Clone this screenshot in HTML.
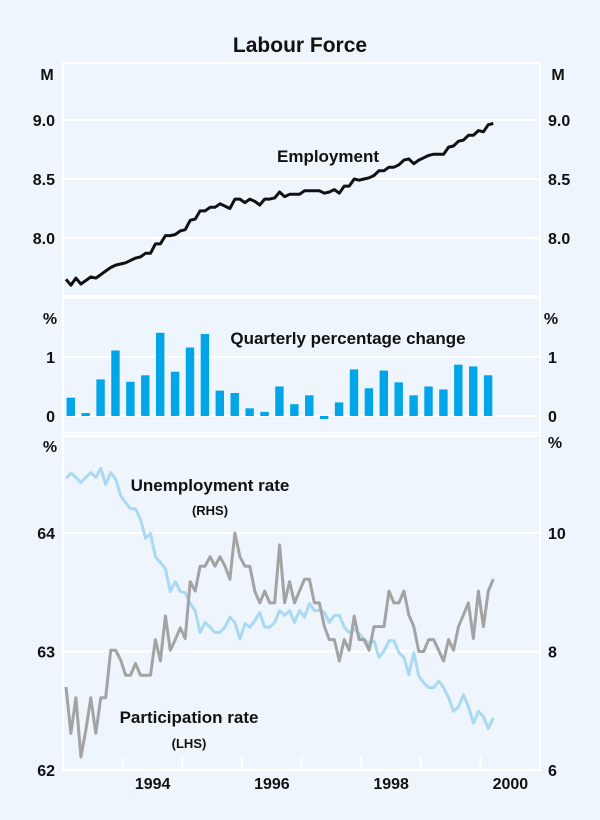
<!DOCTYPE html>
<html><head><meta charset="utf-8"><style>
body{margin:0;background:#eef5fc;}
svg{display:block;font-family:"Liberation Sans",Arial,sans-serif;}
</style></head><body>
<svg id="c" width="600" height="820" viewBox="0 0 600 820">
<rect width="600" height="820" fill="#eef5fc"/>
<text x="300" y="52" text-anchor="middle" font-size="21" font-weight="bold" fill="#111">Labour Force</text>
<g id="g"></g>
</svg>
<script>
const empValues=[7.65,7.60,7.66,7.61,7.64,7.67,7.66,7.69,7.72,7.75,7.77,7.78,7.79,7.81,7.83,7.84,7.87,7.87,7.95,7.95,8.02,8.02,8.03,8.06,8.07,8.15,8.16,8.23,8.23,8.26,8.26,8.29,8.27,8.25,8.33,8.33,8.30,8.33,8.31,8.28,8.33,8.33,8.34,8.39,8.35,8.37,8.37,8.37,8.40,8.40,8.40,8.40,8.38,8.39,8.41,8.38,8.44,8.44,8.50,8.49,8.50,8.51,8.53,8.57,8.57,8.60,8.60,8.62,8.66,8.67,8.63,8.66,8.68,8.70,8.71,8.71,8.71,8.77,8.78,8.82,8.83,8.87,8.87,8.91,8.90,8.96,8.97];
const qtrChange=[0.31,0.05,0.62,1.11,0.58,0.69,1.41,0.75,1.16,1.39,0.43,0.39,0.13,0.07,0.50,0.20,0.35,-0.05,0.23,0.79,0.47,0.77,0.57,0.35,0.50,0.45,0.87,0.84,0.69];
const partRate=[62.70,62.31,62.61,62.11,62.34,62.61,62.31,62.61,62.61,63.01,63.01,62.93,62.80,62.80,62.90,62.80,62.80,62.80,63.10,62.92,63.30,63.01,63.10,63.20,63.11,63.59,63.51,63.72,63.72,63.80,63.72,63.80,63.72,63.61,64.00,63.80,63.72,63.72,63.51,63.41,63.51,63.41,63.41,63.90,63.41,63.59,63.41,63.51,63.61,63.61,63.41,63.41,63.21,63.10,63.10,62.92,63.10,63.01,63.30,63.10,63.10,63.01,63.21,63.21,63.21,63.51,63.41,63.41,63.51,63.31,63.21,63.00,63.00,63.10,63.10,63.01,62.92,63.10,63.01,63.21,63.31,63.41,63.11,63.51,63.21,63.51,63.61];
const unempRate=[10.92,11.01,10.94,10.85,10.94,11.02,10.94,11.09,10.82,11.02,10.91,10.63,10.51,10.41,10.41,10.23,9.91,9.99,9.60,9.50,9.40,9.01,9.18,9.01,8.99,8.81,8.69,8.32,8.49,8.41,8.32,8.32,8.41,8.58,8.49,8.21,8.47,8.41,8.52,8.66,8.41,8.41,8.49,8.69,8.61,8.69,8.49,8.69,8.58,8.81,8.69,8.69,8.66,8.49,8.61,8.61,8.41,8.32,8.38,8.30,8.21,8.13,8.18,7.90,8.01,8.18,8.18,7.98,7.90,7.61,7.98,7.59,7.47,7.39,7.39,7.50,7.39,7.22,6.99,7.07,7.27,7.07,6.79,6.99,6.90,6.70,6.88];
const yearLabels=[1994,1996,1998,2000];
const empTicks=[8.0,8.5,9.0];
const qtrTicks=[0,1];
const lhsTicks=[62,63,64];
const rhsTicks=[6,8,10];
const startMonth=1993.05, startQtr=1993.13;

const L=63,R=540;
const X=t=>L+(t-1993)*(R-L)/8;
const yEmp=v=>120+(9.0-v)*118;
const yQ=v=>416-v*59;
const yL=v=>770-(v-62)*118.5;
const yR=v=>770-(v-6)*59.25;
const g=document.getElementById('g');
const NS='http://www.w3.org/2000/svg';
function mk(tag,attrs,parent){const e=document.createElementNS(NS,tag);for(const k in attrs)e.setAttribute(k,attrs[k]);(parent||g).appendChild(e);return e;}
function txt(x,y,s,anchor,size,name){const t=mk('text',{x:x,y:y,'text-anchor':anchor,'font-size':size,'font-weight':'bold',fill:'#111'});t.textContent=s;

return t;}

// panels
[[63,296],[298,433],[436,770]].forEach((p,i)=>{const r=mk('rect',{x:L,y:p[0],width:R-L,height:p[1]-p[0],fill:'none',stroke:'#fff','stroke-width':2});

});

// gridlines and tick labels
empTicks.forEach(v=>{const l=mk('line',{x1:L,x2:R,y1:yEmp(v),y2:yEmp(v),stroke:'#fff','stroke-width':2});


txt(55,yEmp(v)+6,v.toFixed(1),'end',16,'y-tick-left');txt(548,yEmp(v)+6,v.toFixed(1),'start',16,'y-tick-right');});
qtrTicks.forEach(v=>{const l=mk('line',{x1:L,x2:R,y1:yQ(v),y2:yQ(v),stroke:'#fff','stroke-width':2});


txt(55,yQ(v)+6,String(v),'end',16,'y-tick-left');txt(548,yQ(v)+6,String(v),'start',16,'y-tick-right');});
lhsTicks.forEach((v,i)=>{const l=mk('line',{x1:L,x2:R,y1:yL(v),y2:yL(v),stroke:'#fff','stroke-width':2});


txt(55,yL(v)+6,String(v),'end',16,'y-tick-left');txt(548,yR(rhsTicks[i])+6,String(rhsTicks[i]),'start',16,'y-tick-right');});
txt(47,80,'M','middle',16,'unit-left-m');txt(558,80,'M','middle',16,'unit-right-m');
txt(50,324,'%','middle',16,'unit-left-pct');txt(551,324,'%','middle',16,'unit-right-pct');
txt(50,452,'%','middle',16,'unit-left-pct');txt(555,448,'%','middle',16,'unit-right-pct');

// year ticks
for(let y=1994;y<=2000;y++){const l=mk('line',{x1:X(y),x2:X(y),y1:770,y2:757,stroke:'#fff','stroke-width':2});

}
yearLabels.forEach(y=>txt(X(y)+30,789,String(y),'middle',16,'x-tick-label'));

// bars
qtrChange.forEach((v,i)=>{const x=X(startQtr+i*0.25);const y0=yQ(0),y1=yQ(v);
const b=mk('rect',{x:x-4.2,y:Math.min(y0,y1),width:8.4,height:Math.max(1.5,Math.abs(y1-y0)),fill:'#00a6e8'});

});

function line(arr,yf,color,w,name){const d=arr.map((v,i)=>(i?'L':'M')+X(startMonth+i/12).toFixed(1)+','+yf(v).toFixed(1)).join('');
const p=mk('path',{d:d,fill:'none',stroke:color,'stroke-width':w,'stroke-linejoin':'round'});

}
line(unempRate,yR,'#a9d9f3',3,'unemployment-rate-line');
line(partRate,yL,'#a3a3a3',3,'participation-rate-line');
line(empValues,yEmp,'#111',3,'employment-line');

txt(328,162,'Employment','middle',17,'employment-label');
txt(348,344,'Quarterly percentage change','middle',17,'quarterly-change-label');
txt(210,491,'Unemployment rate','middle',17,'unemployment-label');
txt(210,515,'(RHS)','middle',13,'unemployment-rhs-label');
txt(189,723,'Participation rate','middle',17,'participation-label');
txt(189,748,'(LHS)','middle',13,'participation-lhs-label');
</script>
</body></html>
